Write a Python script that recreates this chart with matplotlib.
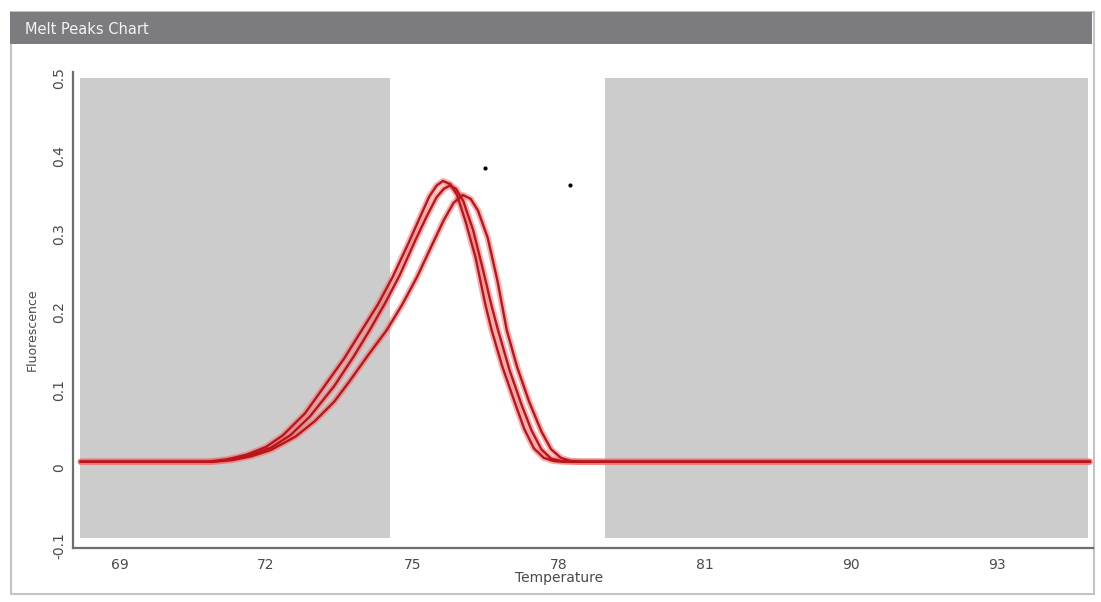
"""
Melt Peaks Chart - three melt curves (negative derivative of fluorescence)
over a temperature axis, with the grey regions outside the melt window.
"""

import matplotlib
matplotlib.use("Agg")
import matplotlib.pyplot as plt
from matplotlib.patches import Rectangle


# Axis ticks: the instrument's axis is not linear past 81, so the ticks
# sit at even spacing and carry the printed temperatures as labels.
x_tick_pos = [69, 72, 75, 78, 81, 84, 87]
x_tick_labels = ["69", "72", "75", "78", "81", "90", "93"]
y_ticks = [-0.1, 0, 0.1, 0.2, 0.3, 0.4, 0.5]
y_tick_labels = ["-0.1", "0", "0.1", "0.2", "0.3", "0.4", "0.5"]

# Grey (excluded) temperature windows and their vertical extent
shade_left = (68.18, 74.54)
shade_right = (78.95, 88.86)
shade_y = (-0.09, 0.5)

# Curve 1 (highest, leftmost peak)
temp_1 = [68.2, 70.0, 70.8, 71.2, 71.6, 72.0, 72.35, 72.8, 73.2, 73.6,
          73.97, 74.3, 74.6, 74.9, 75.15, 75.35, 75.5, 75.63, 75.78, 75.92,
          76.1, 76.3, 76.5, 76.63, 76.85, 77.1, 77.3, 77.5, 77.7, 77.9,
          78.1, 88.9]
fluor_1 = [0.008, 0.008, 0.008, 0.011, 0.017, 0.027, 0.042, 0.07, 0.105, 0.14,
           0.177, 0.21, 0.245, 0.285, 0.32, 0.348, 0.362, 0.368, 0.364, 0.35,
           0.315, 0.27, 0.21, 0.177, 0.13, 0.085, 0.05, 0.025, 0.013, 0.009,
           0.008, 0.008]

# Curve 2 (middle)
temp_2 = [68.2, 70.9, 71.3, 71.7, 72.1, 72.5, 72.9, 73.4, 73.8, 74.13,
          74.45, 74.75, 75.05, 75.3, 75.5, 75.65, 75.77, 75.9, 76.05, 76.25,
          76.45, 76.62, 76.76, 77.0, 77.25, 77.45, 77.65, 77.85, 78.05, 78.3,
          88.9]
fluor_2 = [0.008, 0.008, 0.011, 0.017, 0.026, 0.042, 0.066, 0.105, 0.143, 0.177,
           0.212, 0.248, 0.29, 0.323, 0.347, 0.358, 0.362, 0.358, 0.342, 0.305,
           0.255, 0.21, 0.177, 0.125, 0.08, 0.048, 0.024, 0.012, 0.009, 0.008,
           0.008]

# Curve 3 (lowest, rightmost peak)
temp_3 = [68.2, 70.9, 71.3, 71.7, 72.1, 72.6, 73.0, 73.4, 73.7, 74.1,
          74.48, 74.8, 75.1, 75.4, 75.65, 75.85, 76.04, 76.2, 76.35, 76.55,
          76.75, 76.94, 77.15, 77.4, 77.65, 77.85, 78.05, 78.25, 78.5, 88.9]
fluor_3 = [0.008, 0.008, 0.010, 0.015, 0.023, 0.04, 0.06, 0.085, 0.11, 0.145,
           0.177, 0.21, 0.245, 0.285, 0.318, 0.34, 0.350, 0.345, 0.33, 0.295,
           0.24, 0.177, 0.13, 0.085, 0.047, 0.024, 0.013, 0.009, 0.008, 0.008]

# Two stray points in the screenshot
dot_temp = [76.49, 78.23]
dot_fluor = [0.385, 0.363]

W, H = 1101, 602


def fig_rect(fig, x0, y0, x1, y1, **kw):
    """Draw a rectangle given in pixel coords (origin top-left)."""
    fig.patches.append(Rectangle((x0 / W, 1 - y1 / H), (x1 - x0) / W, (y1 - y0) / H,
                                 transform=fig.transFigure, figure=fig,
                                 zorder=-5, **kw))


fig = plt.figure(figsize=(W / 100, H / 100), dpi=100)
fig.patch.set_facecolor("white")

# Panel frame and header bar (kept below the axes)
fig_rect(fig, 11, 12, 1094, 594, facecolor="white", edgecolor="#c4c4c4", lw=1.5)
fig_rect(fig, 10, 12, 1092, 44, facecolor="#7b7b80", edgecolor="none")
fig.text(25 / W, 1 - 29 / H, "Melt Peaks Chart", color="#f4f4f4",
         fontsize=10.5, va="center", ha="left")

ax = fig.add_axes([73 / W, 1 - 548 / H, 1020 / W, 476 / H])
ax.patch.set_alpha(0)

# Grey excluded windows
for lo, hi in (shade_left, shade_right):
    ax.fill_between([lo, hi], shade_y[0], shade_y[1], color="#cccccc", lw=0, zorder=1)

# Melt curves: soft halo underneath, darker red core on top
for t, f in ((temp_1, fluor_1), (temp_2, fluor_2), (temp_3, fluor_3)):
    ax.plot(t, f, color="#f07070", lw=4.5, alpha=0.55, zorder=2,
            solid_capstyle="round")
for t, f in ((temp_1, fluor_1), (temp_2, fluor_2), (temp_3, fluor_3)):
    ax.plot(t, f, color="#b8161b", lw=1.7, zorder=3, solid_joinstyle="round")

ax.scatter(dot_temp, dot_fluor, s=4, color="black", zorder=4)

ax.set_xlim(68.04, 88.97)
ax.set_ylim(-0.1026, 0.5077)
ax.set_xticks(x_tick_pos)
ax.set_xticklabels(x_tick_labels)
ax.set_yticks(y_ticks)
ax.set_yticklabels(y_tick_labels, rotation=90, va="center")
ax.tick_params(axis="both", length=0, colors="#4a4a4a", labelsize=10)
ax.tick_params(axis="x", pad=7)
ax.tick_params(axis="y", pad=5)

for side in ("top", "right"):
    ax.spines[side].set_visible(False)
for side in ("left", "bottom"):
    ax.spines[side].set_color("#6e6e6e")
    ax.spines[side].set_linewidth(1.6)

ax.set_xlabel("Temperature", fontsize=10, color="#4a4a4a")
ax.xaxis.set_label_coords(0.477, -0.048)
ax.set_ylabel("Fluorescence", fontsize=9, color="#4a4a4a")
ax.yaxis.set_label_coords(-0.034, 0.458)

fig.savefig("out.png", dpi=100, facecolor="white")
